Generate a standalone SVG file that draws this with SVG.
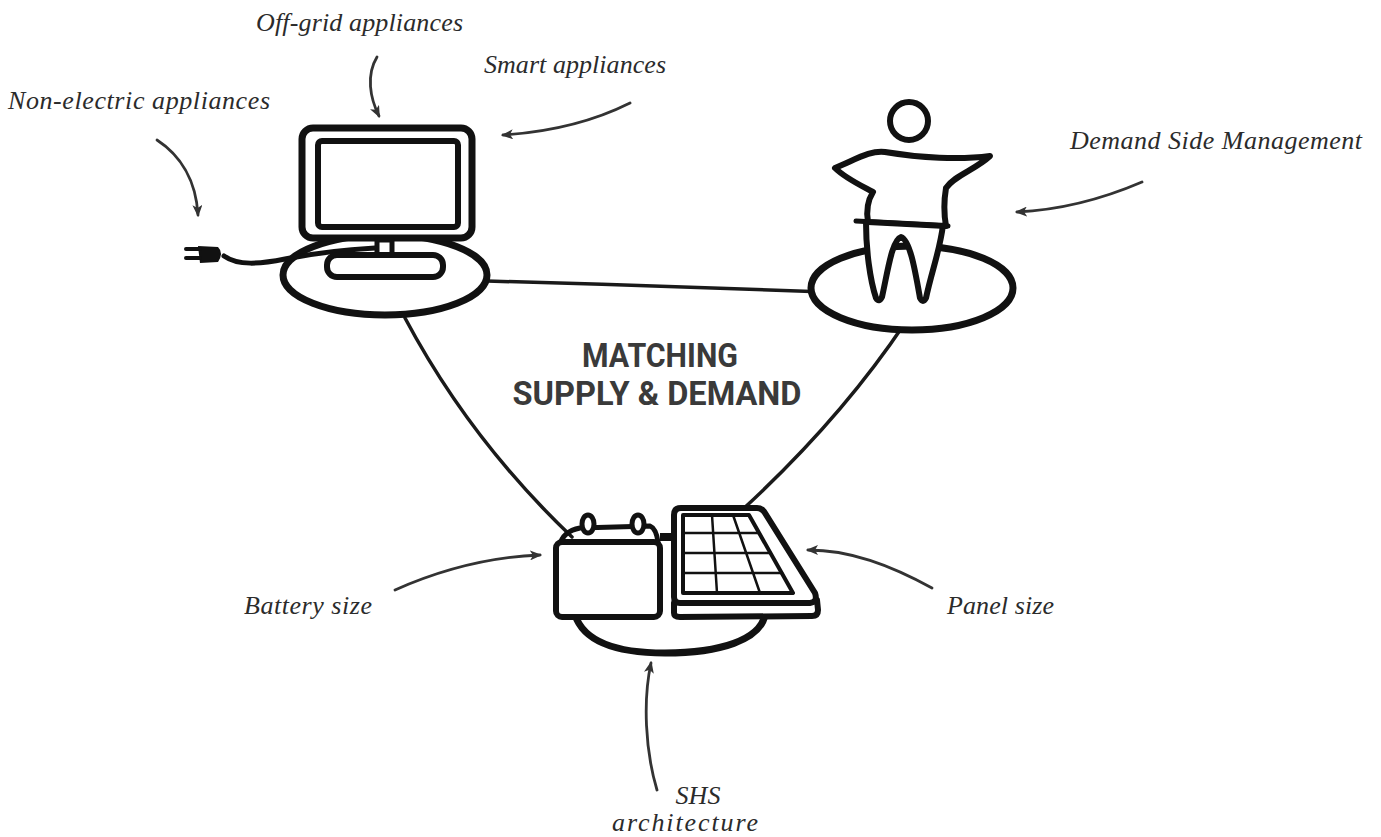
<svg xmlns="http://www.w3.org/2000/svg" width="1381" height="837" viewBox="0 0 1381 837">
  <defs>
    <marker id="head" viewBox="0 0 12 10" refX="10" refY="5" markerWidth="12" markerHeight="10" markerUnits="userSpaceOnUse" orient="auto">
      <path d="M0,0 L12,5 L0,10 L3,5 Z" fill="#333"/>
    </marker>
    <style>
      .ink { fill: none; stroke: #111; stroke-linecap: round; stroke-linejoin: round; }
      .fillw { fill: #fff; }
      .edge { fill: none; stroke: #1a1a1a; stroke-width: 3.5; stroke-linecap: round; }
      .note { fill: none; stroke: #333; stroke-width: 2.8; stroke-linecap: round; marker-end: url(#head); }
      .lbl { font-family: "Liberation Serif", "DejaVu Serif", serif; font-style: italic; font-size: 26px; fill: #2b2b2b; }
      .title { font-family: Roboto, "Liberation Sans", sans-serif; font-weight: bold; font-size: 34px; fill: #3a3a3a; text-anchor: middle; }
    </style>
  </defs>
  <rect width="1381" height="837" fill="#fff"/>

  <!-- links between the three nodes -->
  <g id="connectors">
    <path class="edge" d="M487,281 C600,284 720,288 826,292"/>
    <path class="edge" d="M405,318 Q470,440 572,537"/>
    <path class="edge" d="M905,323 Q840,420 742,510"/>
  </g>

  <!-- appliances: monitor on a plate with a plug -->
  <g id="appliances">
    <ellipse class="ink fillw" cx="385" cy="275" rx="102" ry="40" stroke-width="7"/>
    <rect class="ink fillw" x="302" y="128" width="170" height="110" rx="11" stroke-width="7"/>
    <rect class="ink" x="318" y="141" width="140" height="86" rx="4" stroke-width="6"/>
    <rect class="ink fillw" x="377" y="240" width="15" height="15" stroke-width="5"/>
    <path class="ink" d="M224,256 C238,266 260,264 285,259 C310,254 340,250 375,248" stroke-width="5"/>
    <rect class="ink fillw" x="327" y="255" width="116" height="22" rx="10" stroke-width="6"/>
    <path d="M198,246 L218,247 Q224,253 218,262 L200,263 Z" fill="#111"/>
    <path class="ink" d="M186,249 L200,249 M186,258 L200,258" stroke-width="4"/>
  </g>

  <!-- user: figure standing on a plate -->
  <g id="user">
    <ellipse class="ink fillw" cx="912" cy="288" rx="101" ry="42" stroke-width="7"/>
    <path class="ink fillw" d="M866,222 C866,250 870,280 876,298 Q879,303 882,297 C888,270 892,240 901,237 C910,240 915,270 920,298 Q923,304 926,298 C932,270 940,250 943,225" stroke-width="6"/>
    <path class="ink fillw" d="M835,168 C855,160 870,150 885,152 C920,158 960,160 990,156 C975,170 955,175 946,188 C944,200 944,215 946,226 L868,222 C866,210 868,200 873,192 C860,185 845,178 835,168 Z" stroke-width="6"/>
    <path class="ink" d="M856,221 L948,226" stroke-width="5"/>
    <circle class="ink" cx="909" cy="121" r="19" stroke-width="6"/>
  </g>

  <!-- solar home system: battery and panel on a plate -->
  <g id="shs">
    <path class="ink" d="M575,615 C585,645 625,653 665,653 C720,653 760,640 765,615" stroke-width="7"/>
    <path class="ink" d="M560,545 C562,535 570,530 580,528 L650,526 C655,528 657,535 658,542" stroke-width="5"/>
    <ellipse class="ink fillw" cx="588" cy="524" rx="6" ry="9" stroke-width="5"/>
    <ellipse class="ink fillw" cx="638" cy="524" rx="6" ry="9" stroke-width="5"/>
    <rect class="ink fillw" x="556" y="542" width="104" height="75" rx="6" stroke-width="6"/>
    <rect x="660" y="533" width="16" height="8" fill="#111"/>
    <path class="ink fillw" d="M674,603 L674,613 Q674,617 680,617 L812,616 Q818,616 818,610 L817,600" stroke-width="6"/>
    <path class="ink fillw" d="M674,515 Q674,508 681,508 L757,508 Q762,508 765,513 L815,593 Q818,602 810,603 L680,603 Q674,603 674,597 Z" stroke-width="6"/>
    <path class="ink" d="M683,515 L749,515 L793,593 L683,593 Z" stroke-width="4"/>
    <path class="ink" d="M712,515 L717,593 M733,515 L760,593 M683,533 L759,533 M683,553 L770,553 M683,573 L782,573" stroke-width="2.5"/>
  </g>

  <!-- annotation arrows -->
  <g id="annotation-arrows">
    <path class="note" d="M377,57 C366,75 370,98 379,116"/>
    <path class="note" d="M630,103 C590,123 550,132 503,135"/>
    <path class="note" d="M157,140 C180,155 196,180 198,215"/>
    <path class="note" d="M1142,182 C1100,200 1060,210 1017,212"/>
    <path class="note" d="M395,590 C440,570 490,557 540,555"/>
    <path class="note" d="M932,588 C890,565 850,550 808,550"/>
    <path class="note" d="M657,790 C645,750 643,700 651,663"/>
  </g>

  <!-- labels -->
  <g id="labels">
    <text class="lbl" x="256" y="31" textLength="207">Off-grid appliances</text>
    <text class="lbl" x="484" y="73" textLength="182">Smart appliances</text>
    <text class="lbl" x="8" y="109" textLength="262">Non-electric appliances</text>
    <text class="lbl" x="1070" y="149" textLength="292">Demand Side Management</text>
    <text class="lbl" x="244" y="614" textLength="128">Battery size</text>
    <text class="lbl" x="947" y="614" textLength="107">Panel size</text>
    <text class="lbl" x="698" y="804" text-anchor="middle">SHS</text>
    <text class="lbl" x="685" y="831" text-anchor="middle" textLength="146">architecture</text>
  </g>

  <g id="title">
    <text class="title" x="660" y="367" textLength="156" lengthAdjust="spacingAndGlyphs">MATCHING</text>
    <text class="title" x="657" y="405" textLength="289" lengthAdjust="spacingAndGlyphs">SUPPLY &amp; DEMAND</text>
  </g>
</svg>
